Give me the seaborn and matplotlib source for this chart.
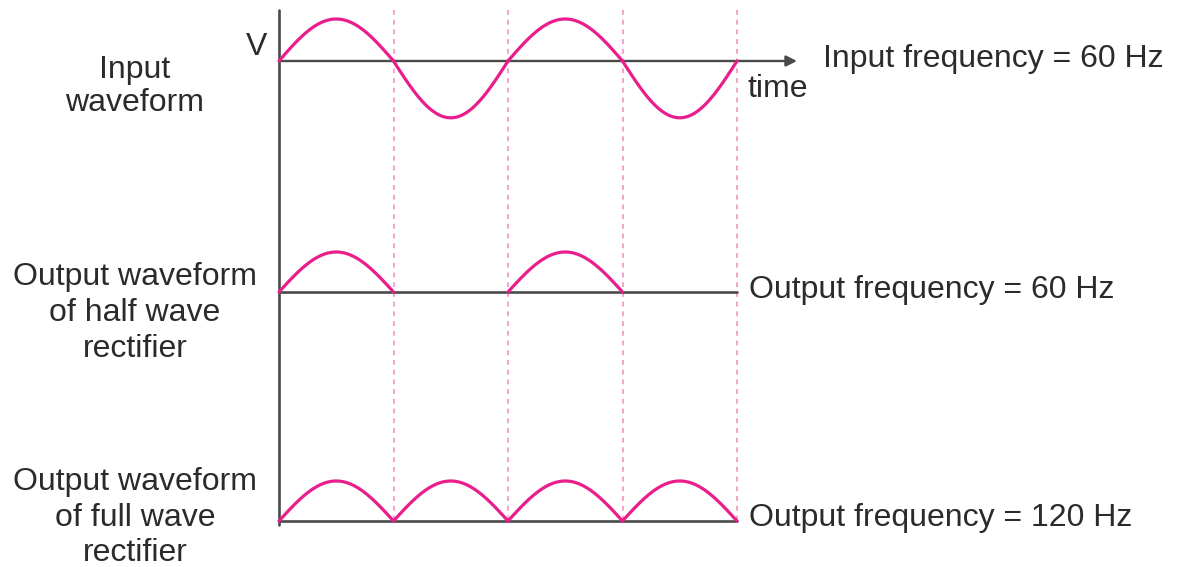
import numpy as np
import pandas as pd
import matplotlib
matplotlib.use("Agg")
import matplotlib.pyplot as plt
import seaborn as sns

# ==========================================================
# Data
# ==========================================================

input_freq_hz = 60
half_cycle_ms = 1000 / input_freq_hz / 2          # 8.33 ms per lobe
n_half_cycles = 4

# relative lobe heights (1.0 = one full positive peak on the drawing)
input_lobes = [1.05, -1.42, 1.05, -1.42]
half_wave_lobes = [1.0, 0.0, 1.0, 0.0]
full_wave_lobes = [1.0, 1.0, 1.0, 1.0]

row_labels = ["Input\nwaveform",
              "Output waveform\nof half wave\nrectifier",
              "Output waveform\nof full wave\nrectifier"]
freq_labels = ["Input frequency = 60 Hz",
               "Output frequency = 60 Hz",
               "Output frequency = 120 Hz"]

# ==========================================================
# Layout (pixels on a 1177 x 567 canvas)
# ==========================================================

W, H = 1177, 567
x0_px, x_end_px = 279, 737
px_per_ms = (x_end_px - x0_px) / (n_half_cycles * half_cycle_ms)
baselines = [61, 292, 521]
amp_px = 40

pink = "#E91E8C"
light_pink = "#F4A3CB"
axis_col = "#4A4A4A"
text_col = "#2B2B2B"


def lobe_frame(lobes, row):
    parts = []
    for i, h in enumerate(lobes):
        t = np.linspace(i * half_cycle_ms, (i + 1) * half_cycle_ms, 60)
        v = np.abs(np.sin(np.pi * (t - i * half_cycle_ms) / half_cycle_ms)) * h
        parts.append(pd.DataFrame({"t": t, "y": baselines[row] - v * amp_px,
                                   "seg": f"{row}-{i}"}))
    return pd.concat(parts)


df = pd.concat([lobe_frame(input_lobes, 0),
                lobe_frame(half_wave_lobes, 1),
                lobe_frame(full_wave_lobes, 2)])
# half wave: skip flat lobes (they sit on the baseline)
df = df[~df["seg"].isin(["1-1", "1-3"])]

# ==========================================================
# Plot
# ==========================================================

sns.set_style("white")
plt.rcParams["font.family"] = ["Liberation Sans", "DejaVu Sans"]

fig = plt.figure(figsize=(W / 100, H / 100), dpi=100)
ax = fig.add_axes([0, 0, 1, 1])
ax.set_xlim(-x0_px / px_per_ms, (W - x0_px) / px_per_ms)
ax.set_ylim(H, 0)
ax.axis("off")

t_end = n_half_cycles * half_cycle_ms

# dashed markers at each zero crossing
for k in range(1, n_half_cycles + 1):
    ax.plot([k * half_cycle_ms] * 2, [10, 522], color=light_pink,
            lw=1.4, ls=(0, (2.5, 2.5)), zorder=1)

# vertical axis
ax.plot([0, 0], [10, 525], color=axis_col, lw=1.9, zorder=3)

# time axis with arrow
ax.annotate("", xy=((797 - x0_px) / px_per_ms, baselines[0]),
            xytext=(0, baselines[0]),
            arrowprops=dict(arrowstyle="-|>", color=axis_col, lw=1.7,
                            mutation_scale=16, shrinkA=0, shrinkB=0),
            zorder=3)
ax.plot([0, t_end], [baselines[1]] * 2, color=axis_col, lw=1.9, zorder=3)
ax.plot([0, t_end], [baselines[2]] * 2, color=axis_col, lw=1.9, zorder=3)

sns.lineplot(data=df, x="t", y="y", units="seg", estimator=None,
             color=pink, lw=2.3, sort=False, ax=ax, zorder=4)

fs = 23
ax.text(-33 / px_per_ms, 47, "V", fontsize=fs, color=text_col,
        ha="left", va="center")
ax.text((747 - x0_px) / px_per_ms, 89, "time", fontsize=fs, color=text_col,
        ha="left", va="center")

label_y = [[70, 103], [277, 313, 349], [482, 518, 553]]
for lab, ys in zip(row_labels, label_y):
    for line, yy in zip(lab.split("\n"), ys):
        ax.text((135 - x0_px) / px_per_ms, yy, line, fontsize=fs,
                color=text_col, ha="center", va="center")

freq_pos = [(823, 59), (749, 290), (749, 518)]
for lab, (xp, yp) in zip(freq_labels, freq_pos):
    ax.text((xp - x0_px) / px_per_ms, yp, lab, fontsize=fs,
            color=text_col, ha="left", va="center")

fig.savefig("out.png", dpi=100, facecolor="white")
